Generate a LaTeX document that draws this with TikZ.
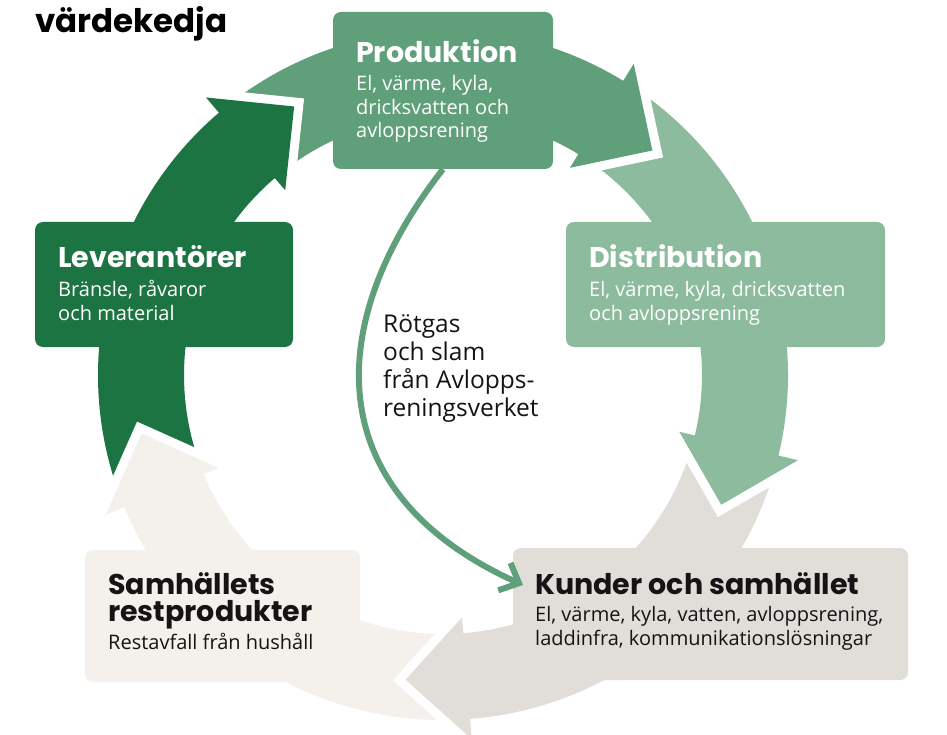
\documentclass[tikz,border=0pt]{standalone}
\usepackage{fontspec}
\setmainfont{Open Sans}
\newfontfamily\headfont{Poppins}
\usetikzlibrary{arrows.meta}

\definecolor{levgreen}{HTML}{1D7443}
\definecolor{prodgreen}{HTML}{5FA07A}
\definecolor{distgreen}{HTML}{8CBB9E}
\definecolor{kundgrey}{HTML}{E1DDD9}
\definecolor{restbeige}{HTML}{F4F0EC}
\definecolor{textdark}{HTML}{141414}

\tikzset{>=latex}
\tikzset{
    box/.style={rounded corners=8pt, inner sep=0pt},
    boxhead/.style={font=\headfont\bfseries\fontsize{28.5}{27}\selectfont, anchor=base west, inner sep=0pt, align=left},
    boxtext/.style={font=\fontsize{20}{23.5}\selectfont, anchor=base west, inner sep=0pt, align=left}
}

% one thick arc arrow of the ring, drawn clockwise from #1 to #2
\newcommand{\ringarrow}[3]{%
    \path[fill=#3, preaction={draw=white, line width=18pt, line join=miter}]
        (#1:345) arc[start angle=#1, end angle=#2, radius=345]
        -- (#2:365) -- ({#2-11.5}:307) -- (#2:243) -- (#2:259)
        arc[start angle=#2, end angle=#1, radius=259] -- cycle;}

\begin{document}
\begin{tikzpicture}[x=1pt, y=-1pt]
    \useasboundingbox (0,0) rectangle (947,735);

    % the ring
    \begin{scope}[shift={(443,375)}, yscale=-1]
        \ringarrow{-86.5}{-157.5}{restbeige}
        \ringarrow{-14.5}{-85.5}{kundgrey}
        \ringarrow{57.5}{-13.5}{distgreen}
        \ringarrow{129.5}{58.5}{prodgreen}
        \ringarrow{201.5}{130.5}{levgreen}
        \begin{scope}
            \clip (0,0) -- (185:500) arc[start angle=185, end angle=215, radius=500] -- cycle;
            \ringarrow{-86.5}{-157.5}{restbeige}
        \end{scope}
    \end{scope}

    \node[anchor=base west, inner sep=0pt, font=\headfont\bfseries\fontsize{32.5}{34}\selectfont] (title) at (35,33) {värdekedja};

    % boxes
    \node[box, fill=prodgreen, minimum width=220pt, minimum height=157pt] (prod) at (443,90.5) {};
    \node[box, fill=levgreen, minimum width=258pt, minimum height=125pt] (lev) at (164,284.5) {};
    \node[box, fill=distgreen, minimum width=319pt, minimum height=125pt] (dist) at (725.5,284.5) {};
    \node[box, fill=restbeige, minimum width=275pt, minimum height=132pt] (rest) at (222.5,616) {};
    \node[box, fill=kundgrey, minimum width=395pt, minimum height=132pt] (kund) at (710.5,614) {};

    % texts (multi-line nodes sit on their last baseline)
    \node[boxhead, text=white] (prodhead) at (356,63) {Produktion};
    \node[boxtext, text=white] (prodtext) at (356,138) {El, värme, kyla,\\dricksvatten och\\avloppsrening};

    \node[boxhead, text=white] (levhead) at (58,268) {Leverantörer};
    \node[boxtext, text=white] (levtext) at (58,320) {Bränsle, råvaror\\och material};

    \node[boxhead, text=white] (disthead) at (589,268) {Distribution};
    \node[boxtext, text=white] (disttext) at (589,320) {El, värme, kyla, dricksvatten\\och avloppsrening};

    \node[boxhead, text=textdark] (resthead) at (108,621) {Samhällets\\restprodukter};
    \node[boxtext, text=textdark] (resttext) at (108,649) {Restavfall från hushåll};

    \node[boxhead, text=textdark] (kundhead) at (535,594) {Kunder och samhället};
    \node[boxtext, text=textdark] (kundtext) at (535,645) {El, värme, kyla, vatten, avloppsrening,\\laddinfra, kommunikationslösningar};

    % biogas loop
    \coordinate (rotend) at (523,585);
    \draw[prodgreen, line width=6pt, -{Straight Barb[length=16pt, width=30pt, line width=6pt]}]
        (prod.south) .. controls (319,328) and (323,495) .. (rotend);
    \node[boxtext, font=\fontsize{24.5}{28}\selectfont, text=textdark] (rotgas) at (383,416) {Rötgas\\och slam\\från Avlopps-\\reningsverket};

\end{tikzpicture}
\end{document}
